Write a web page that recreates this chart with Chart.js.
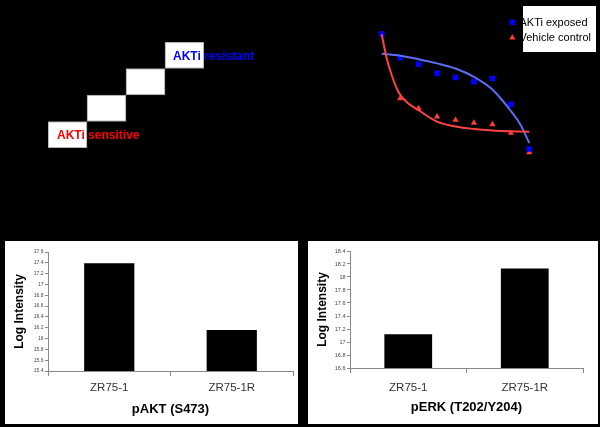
<!DOCTYPE html>
<html><head><meta charset="utf-8">
<script src="https://cdn.jsdelivr.net/npm/chart.js@4.4.1/dist/chart.umd.min.js"></script>
<style>
html,body{margin:0;padding:0;background:#000;width:600px;height:427px;overflow:hidden;}
canvas{position:absolute;display:block;}
</style></head><body>
<canvas id="stairs" width="300" height="225" style="left:0px;top:0px"></canvas>
<canvas id="dose" width="300" height="225" style="left:300px;top:0px"></canvas>
<canvas id="akt" width="293" height="183" style="left:5px;top:241px;background:#fff"></canvas>
<canvas id="erk" width="290" height="183" style="left:308px;top:241px;background:#fff"></canvas>
<script>
// ---- data ----
const stepLabels = ['1','2','3','4'];
const stepRanges = [[0,1],[1,2],[2,3],[3,4]];
const stepTexts = ['AKTi sensitive','AKTi resistant'];

const doseX = [1,2,3,4,5,6,7,8,9];
const aktiExposed = [100,81.2,76,68.8,65.5,62.1,64.7,44.2,8.7];
const vehicleControl = [99.8,48.8,41,34.4,31.7,29.5,28.2,21.4,6];
const exposedFitX = [1,2,3,4,5,6,7,7.5,8,8.5,9];
const exposedFitY = [84.4,82.8,80,76.7,72.6,66,56,48,38.9,28.6,13.5];
const vehicleFitX = [1,1.27,1.54,1.9,2.35,3,4,5,6,7,8,9];
const vehicleFitY = [99.8,80.7,67.5,54.2,46,39.5,30.4,26.6,24.6,23.4,22.8,22.5];
const seriesNames = ['AKTi exposed','Vehicle control'];

const cellLines = ['ZR75-1','ZR75-1R'];
const pAKT = [17.39,16.16];
const pERK = [17.12,18.13];
const aktTicks = [15.4,15.6,15.8,16,16.2,16.4,16.6,16.8,17,17.2,17.4,17.6];
const erkTicks = [16.6,16.8,17,17.2,17.4,17.6,17.8,18,18.2,18.4];

Chart.defaults.font.family = '"Liberation Sans", Arial, sans-serif';
const FONT = '"Liberation Sans", Arial, sans-serif';

// ---- staircase ----
const stairText = {
  id:'stairText',
  afterDatasetsDraw(chart){
    const ctx = chart.ctx;
    const bars = chart.getDatasetMeta(0).data;
    const a = bars[0], b = bars[bars.length-1];
    ctx.save();
    ctx.font = 'bold 12px ' + FONT;
    ctx.textBaseline = 'alphabetic';
    ctx.fillStyle = '#ff0000';
    ctx.fillText(stepTexts[0], a.x - a.width/2 + 9, (a.y + a.base)/2 + 4.3);
    ctx.fillStyle = '#0000ff';
    ctx.fillText(stepTexts[1], b.x - b.width/2 + 8, (b.y + b.base)/2 + 4.3);
    ctx.restore();
  }
};
new Chart(document.getElementById('stairs'), {
  type:'bar',
  data:{labels:stepLabels, datasets:[{data:stepRanges, backgroundColor:'#ffffff', borderColor:'#999999', borderWidth:1, borderSkipped:false, barPercentage:1, categoryPercentage:1}]},
  options:{responsive:false, animation:false, devicePixelRatio:1,
    layout:{padding:{left:48, top:42, right:96, bottom:77}},
    scales:{x:{display:false}, y:{display:false, min:0, max:4}},
    plugins:{legend:{display:false}, tooltip:{enabled:false}}},
  plugins:[stairText]
});

// ---- dose response ----
const legendBox = {
  id:'legendBox',
  afterDatasetsDraw(chart){
    const ctx = chart.ctx;
    ctx.save();
    ctx.fillStyle = '#ffffff';
    ctx.fillRect(223, 6, 73, 46);
    const ds = chart.data.datasets;
    // square marker
    ctx.fillStyle = ds[0].backgroundColor;
    ctx.fillRect(212.3-2.8, 22.3-2.8, 5.6, 5.6);
    // triangle marker
    ctx.fillStyle = ds[1].backgroundColor;
    ctx.beginPath();
    ctx.moveTo(212.3, 37.7-3.6);
    ctx.lineTo(212.3+3.1, 37.7+1.8);
    ctx.lineTo(212.3-3.1, 37.7+1.8);
    ctx.closePath(); ctx.fill();
    ctx.fillStyle = '#000000';
    ctx.font = '11px ' + FONT;
    ctx.textBaseline = 'alphabetic';
    ctx.fillText(ds[0].label, 219.5, 25.6);
    ctx.fillText(ds[1].label, 219.5, 41.3);
    ctx.restore();
  }
};
new Chart(document.getElementById('dose'), {
  type:'scatter',
  data:{datasets:[
    {label:seriesNames[0], data:doseX.map((x,i)=>({x:x, y:aktiExposed[i]})), pointStyle:'rect', pointRadius:4, pointBorderWidth:0, backgroundColor:'#0000ff', borderColor:'#0000ff', order:2},
    {label:seriesNames[1], data:doseX.map((x,i)=>({x:x, y:vehicleControl[i]})), pointStyle:'triangle', pointRadius:3.6, pointBorderWidth:0, backgroundColor:'#ff3b3b', borderColor:'#ff3b3b', order:3},
    {label:'fit1', data:exposedFitX.map((x,i)=>({x:x, y:exposedFitY[i]})), showLine:true, pointRadius:0, borderColor:'#5b6cf0', borderWidth:2, cubicInterpolationMode:'monotone', fill:false, order:1},
    {label:'fit2', data:vehicleFitX.map((x,i)=>({x:x, y:vehicleFitY[i]})), showLine:true, pointRadius:0, borderColor:'#ff4343', borderWidth:2, cubicInterpolationMode:'monotone', fill:false, order:0}
  ]},
  options:{responsive:false, animation:false, devicePixelRatio:1,
    layout:{padding:{left:63.25, top:21.4, right:52.25, bottom:52.4}},
    scales:{x:{type:'linear', min:0, max:10, display:false}, y:{min:-10, max:110, display:false}},
    plugins:{legend:{display:false}, tooltip:{enabled:false}}},
  plugins:[legendBox]
});

// ---- bar charts ----
function barChart(id, values, ticks, title, o){
  return new Chart(document.getElementById(id), {
    type:'bar',
    data:{labels:cellLines, datasets:[{data:values, backgroundColor:'#000000', borderWidth:0, barPercentage:o.bp, categoryPercentage:1}]},
    options:{responsive:false, animation:false, devicePixelRatio:1,
      layout:{padding:{top:o.top, right:o.right, left:0, bottom:0}},
      plugins:{legend:{display:false}, tooltip:{enabled:false}},
      scales:{
        x:{
          grid:{display:true, drawOnChartArea:false, drawTicks:true, tickLength:5, color:'#888888', offset:true},
          border:{display:true, color:'#888888'},
          ticks:{color:'#333333', font:{size:11.5}, padding:o.xpad},
          title:{display:true, text:title, color:'#000000', font:{size:13, weight:'bold'}, padding:{top:0, bottom:o.tbot}},
          afterFit:s=>{s.height = o.xh;}
        },
        y:{
          min:ticks[0], max:ticks[ticks.length-1],
          afterBuildTicks:s=>{s.ticks = ticks.map(v=>({value:v}));},
          grid:{display:true, drawOnChartArea:false, drawTicks:true, tickLength:3, color:'#888888'},
          border:{display:true, color:'#888888'},
          ticks:{color:'#444444', font:{size:o.tf}, padding:1.5, callback:v=>String(Math.round(v*10)/10)},
          title:{display:true, text:'Log Intensity', color:'#000000', font:{size:12, weight:'bold'}, padding:{top:o.ytop, bottom:0}},
          afterFit:s=>{s.width = o.yw;}
        }
      }
    }
  });
}
barChart('akt', pAKT, aktTicks, 'pAKT (S473)', {bp:0.41, top:11, right:5, xh:53, yw:43, xpad:5.4, tbot:7.2, ytop:7.1, tf:5});
barChart('erk', pERK, erkTicks, 'pERK (T202/Y204)', {bp:0.41, top:10, right:15, xh:56, yw:42, xpad:8.4, tbot:8.5, ytop:7.5, tf:5.5});
</script>
</body></html>
